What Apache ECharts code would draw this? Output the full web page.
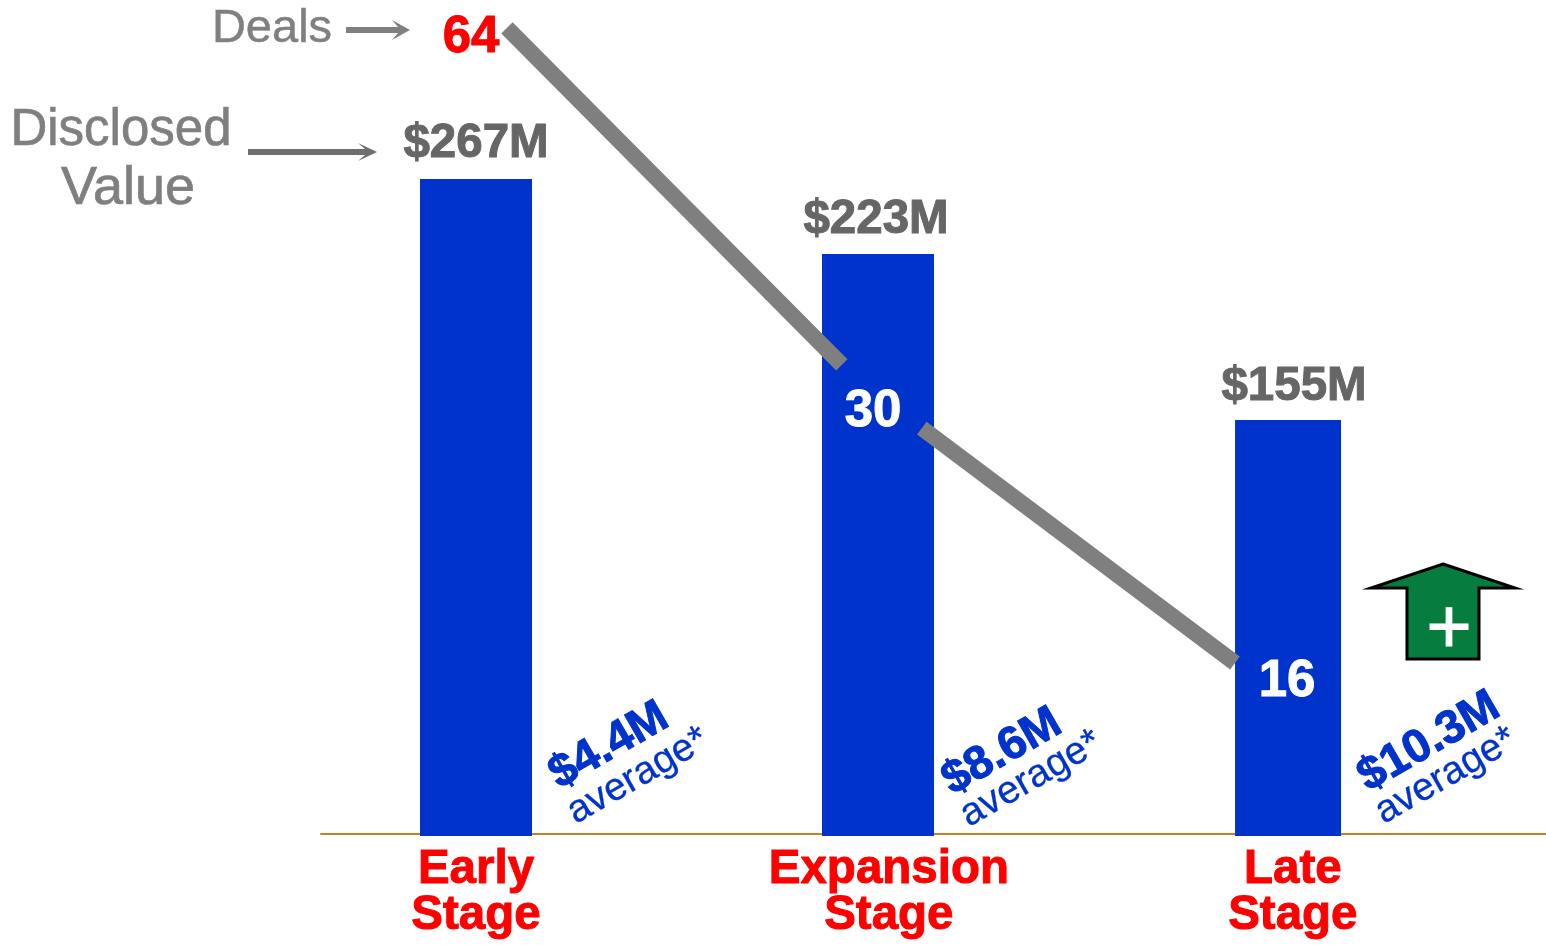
<!DOCTYPE html>
<html><head><meta charset="utf-8">
<style>html,body{margin:0;padding:0;background:#fff}#c{width:1546px;height:945px}</style>
<script src="https://cdn.jsdelivr.net/npm/echarts@6/dist/echarts.min.js"></script>
</head><body><div id="c"></div>
<script>
// --- data ---
const stageLabels = ['Early\nStage', 'Expansion\nStage', 'Late\nStage'];
const stageLabelAt = [0, 1.027, 2.032];
const barStage = [0, 1, 2.02];
// bar lengths as drawn (the reference is not drawn to one linear scale)
const barDrawn = [268, 237.4, 169.7];
const valueLabels = ['$267M', '$223M', '$155M'];
const dealCounts = ['64', '30', '16'];
const dealLineStage = [0.077, 0.91, null, 1.109, 1.888];
const dealLineLevel = [64, 37.3, null, 32.3, 13.7];
const averages = ['$4.4M', '$8.6M', '$10.3M'];
const averageNote = 'average*';

const FONT = '"Liberation Sans", Arial, sans-serif';
const txt = (text, x, y, size, color, bold, rot, sw) => ({
  type: 'text', x, y, rotation: rot || 0, z: 20,
  style: { text, align: 'center', verticalAlign: 'middle', fill: color,
    stroke: sw ? color : null, lineWidth: sw || 0,
    font: (bold ? 'bold ' : '') + size + 'px ' + FONT }
});
const poly = (points, fill, stroke, lw) => ({
  type: 'polygon', z: 19, shape: { points },
  style: { fill, stroke: stroke || null, lineWidth: lw || 0, lineJoin: 'miter' }
});
const R = Math.PI * 30 / 180;
const avgPos = [[609, 746, 638, 776], [1002, 752, 1031, 779], [1429, 742, 1446, 776]];
const dealPos = [[471, 38, '#ff0000'], [873, 412, '#ffffff'], [1287, 682, '#ffffff']];

const graphic = [
  txt('Deals', 272, 29, 47, '#808080', false, 0, 0.5),
  txt('Disclosed', 121, 131, 51, '#7f7f7f', false, 0, 0.7),
  txt('Value', 128, 189, 54, '#7f7f7f', false, 0, 0.7),
  poly([[346,27],[398,27],[392,20],[410,30],[392,40],[398,33],[346,33]], '#808080'),
  poly([[248,149],[365,149],[358,143],[377,152],[358,161],[365,155],[248,155]], '#6e6e6e'),
  poly([[1443,564],[1515,588],[1479,588],[1479,659],[1407,659],[1407,588],[1371,588]], '#067d3e', '#000000', 3),
  txt('+', 1449, 631, 78, '#ffffff', false, 0, 1)
];
dealCounts.forEach((d, i) => graphic.push(txt(d, dealPos[i][0], dealPos[i][1], 51, dealPos[i][2], true, 0, 1)));
averages.forEach((a, i) => {
  graphic.push(txt(a, avgPos[i][0], avgPos[i][1], 46.5, '#0033cc', true, R, 1));
  graphic.push(txt(averageNote, avgPos[i][2], avgPos[i][3], 39, '#0033cc', false, R, 0.3));
});

const hiddenX = { type: 'value', min: -0.3856, max: 2.6617, show: false };
const chart = echarts.init(document.getElementById('c'), null, { renderer: 'canvas' });
const barLabel = (offset) => ({
  show: true, position: 'top', distance: 12, offset,
  color: '#666666', fontFamily: FONT, fontWeight: 'bold', fontSize: 47.5,
  textBorderColor: '#666666', textBorderWidth: 1,
  formatter: p => valueLabels[p.data.idx]
});
const labelNudge = [[0, 1], [-2, 2], [6, 3]];
chart.setOption({
  animation: false,
  backgroundColor: '#ffffff',
  grid: { left: 321, right: 0, top: 0, bottom: 109, containLabel: false },
  xAxis: [
    { type: 'value', min: -0.3856, max: 2.6617, offset: -2, splitLine: { show: false },
      axisLine: { show: true, onZero: false, lineStyle: { color: '#c9801f', width: 2 } },
      axisTick: { show: false },
      axisLabel: { show: true, customValues: stageLabelAt, margin: 13, color: '#ff0000',
        fontFamily: FONT, fontWeight: 'bold', fontSize: 47.5, lineHeight: 46,
        textBorderColor: '#ff0000', textBorderWidth: 1,
        hideOverlap: false, showMinLabel: true, showMaxLabel: true,
        formatter: v => stageLabels[stageLabelAt.indexOf(v)] || '' } },
    hiddenX
  ],
  yAxis: [
    { type: 'value', min: 0, max: 341, show: false },
    { type: 'value', min: 0, max: 66.2, show: false }
  ],
  series: [
    { type: 'bar', xAxisIndex: 0, yAxisIndex: 0, barWidth: 112, clip: false, z: 3,
      itemStyle: { color: '#0033cc' },
      data: [0, 1].map(i => ({ value: [barStage[i], barDrawn[i]], idx: i,
        label: barLabel(labelNudge[i]) })) },
    { type: 'bar', xAxisIndex: 1, yAxisIndex: 0, barWidth: 106, clip: false, z: 3,
      itemStyle: { color: '#0033cc' },
      data: [{ value: [barStage[2], barDrawn[2]], idx: 2, label: barLabel(labelNudge[2]) }] },
    { type: 'line', xAxisIndex: 0, yAxisIndex: 1, z: 5, showSymbol: false, symbol: 'none',
      connectNulls: false, clip: false, silent: true,
      lineStyle: { color: '#7f7f7f', width: 16, cap: 'butt' },
      data: dealLineStage.map((x, i) => x === null ? [null, null] : [x, dealLineLevel[i]]) }
  ],
  graphic
});
</script></body></html>
